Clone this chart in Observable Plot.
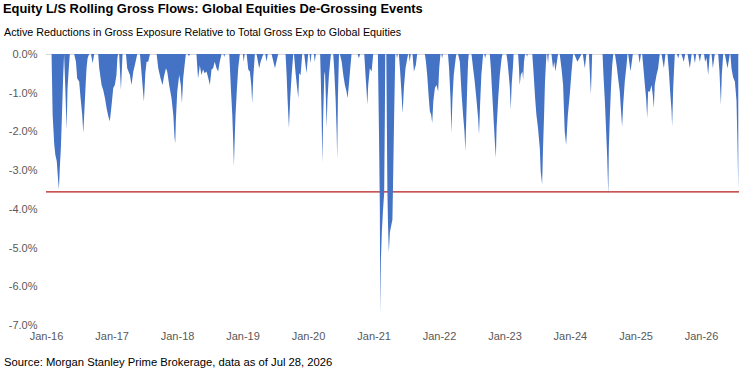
<!DOCTYPE html>
<html>
<head>
<meta charset="utf-8">
<script src="https://cdn.jsdelivr.net/npm/d3@7"></script>
<script src="https://cdn.jsdelivr.net/npm/@observablehq/plot@0.6"></script>
<style>
  body { margin: 0; background: #fff; }
  #chart { position: relative; width: 754px; height: 381px; overflow: hidden;
           font-family: "Liberation Sans", Arial, sans-serif; background: #fff; }
  .title { position: absolute; left: 3px; top: 2.5px; font-size: 12.9px; line-height: 1;
           font-weight: bold; color: #000; white-space: nowrap; }
  .subtitle { position: absolute; left: 4px; top: 26.6px; font-size: 10.75px; line-height: 1;
              color: #000; white-space: nowrap; }
  .source { position: absolute; left: 4px; top: 357.3px; font-size: 11.25px; line-height: 1;
            color: #000; white-space: nowrap; }
  #plot { position: absolute; left: 0; top: 40px; }
</style>
</head>
<body>
<div id="chart">
  <div class="title" id="title"></div>
  <div class="subtitle" id="subtitle"></div>
  <div id="plot"></div>
  <div class="source" id="source"></div>
</div>
<script>
const titleText = "Equity L/S Rolling Gross Flows: Global Equities De-Grossing Events";
const subtitleText = "Active Reductions in Gross Exposure Relative to Total Gross Exp to Global Equities";
const sourceText = "Source: Morgan Stanley Prime Brokerage, data as of Jul 28, 2026";

// Active gross reductions, % of total gross exposure to global equities
const grossFlowPoints = [
  ["2016-02-01", 0], ["2016-02-07", -1.57], ["2016-02-16", -2.34], ["2016-02-22", -2.6],
  ["2016-03-01", -2.77], ["2016-03-09", -3.28], ["2016-03-13", -3.50], ["2016-03-18", -2.94],
  ["2016-03-24", -2.42], ["2016-03-30", -1.57], ["2016-04-06", -0.54], ["2016-04-11", 0],
  ["2016-04-17", -0.8], ["2016-04-25", -1.95], ["2016-04-30", -0.9], ["2016-05-08", -0.3],
  ["2016-05-13", 0], ["2016-06-06", 0], ["2016-06-16", -0.2], ["2016-06-23", -0.63],
  ["2016-07-04", -0.71], ["2016-07-12", -1.14], ["2016-07-21", -1.57], ["2016-07-27", -2.04],
  ["2016-08-01", -1.57], ["2016-08-09", -0.8], ["2016-08-14", -0.37], ["2016-08-20", -0.11],
  ["2016-08-29", 0], ["2016-09-08", 0], ["2016-09-17", -0.24], ["2016-09-26", 0],
  ["2016-10-18", 0], ["2016-10-24", -0.37], ["2016-11-06", -0.8], ["2016-11-15", -0.93],
  ["2016-11-25", -1.14], ["2016-12-04", -1.4], ["2016-12-13", -1.6], ["2016-12-22", -1.74],
  ["2017-01-01", -1.31], ["2017-01-10", -0.88], ["2017-01-19", -0.8], ["2017-01-28", -0.54],
  ["2017-02-02", -0.11], ["2017-02-06", 0], ["2017-02-12", 0], ["2017-02-22", -0.93],
  ["2017-03-03", 0], ["2017-03-22", 0], ["2017-03-29", -0.37], ["2017-04-13", -0.54],
  ["2017-04-22", -0.8], ["2017-05-02", -0.45], ["2017-05-11", -0.28], ["2017-05-24", 0],
  ["2017-06-08", 0], ["2017-06-17", -0.5], ["2017-06-30", -1.23], ["2017-07-08", -0.5],
  ["2017-07-15", -0.2], ["2017-07-24", -0.2], ["2017-08-03", 0], ["2017-09-09", 0],
  ["2017-09-18", -0.37], ["2017-10-01", -0.63], ["2017-10-12", -0.8], ["2017-10-20", -0.58],
  ["2017-10-31", -0.37], ["2017-11-07", -0.45], ["2017-11-18", -0.8], ["2017-12-01", -1.14],
  ["2017-12-11", -1.57], ["2017-12-18", -2.17], ["2017-12-22", -2.3], ["2017-12-25", -1.74],
  ["2018-01-02", -0.97], ["2018-01-13", -0.54], ["2018-01-22", -0.8], ["2018-01-28", -1.27],
  ["2018-02-04", -0.63], ["2018-02-14", -0.2], ["2018-02-19", 0], ["2018-03-01", 0],
  ["2018-03-08", -0.05], ["2018-03-15", 0], ["2018-04-19", 0], ["2018-04-28", -0.63],
  ["2018-05-08", -0.3], ["2018-05-17", -0.54], ["2018-05-26", -0.4], ["2018-06-04", -0.5],
  ["2018-06-14", -0.45], ["2018-06-23", -0.6], ["2018-07-03", -0.8], ["2018-07-12", -0.4],
  ["2018-07-21", -0.37], ["2018-07-30", -0.2], ["2018-08-09", -0.37], ["2018-08-18", -0.45],
  ["2018-08-27", -0.2], ["2018-09-06", 0], ["2018-09-17", 0], ["2018-09-21", -0.08],
  ["2018-09-25", 0], ["2018-10-19", 0], ["2018-10-23", -0.37], ["2018-10-28", -0.88],
  ["2018-11-05", -1.57], ["2018-11-10", -2.25], ["2018-11-14", -2.9], ["2018-11-18", -2.25],
  ["2018-11-23", -1.57], ["2018-12-01", -0.88], ["2018-12-08", -0.37], ["2018-12-17", 0],
  ["2019-01-03", 0], ["2019-01-08", -0.2], ["2019-01-13", 0], ["2019-01-24", 0],
  ["2019-02-02", -0.4], ["2019-02-11", -0.45], ["2019-02-19", -0.8], ["2019-02-24", -1.27],
  ["2019-03-02", -0.6], ["2019-03-11", 0], ["2019-03-20", 0], ["2019-04-04", -0.37],
  ["2019-04-12", -0.2], ["2019-04-27", 0], ["2019-05-08", 0], ["2019-05-15", -0.2],
  ["2019-05-22", 0], ["2019-06-12", 0], ["2019-07-01", -0.37], ["2019-07-19", 0],
  ["2019-08-29", 0], ["2019-09-04", -0.54], ["2019-09-09", -1.14], ["2019-09-17", -1.91],
  ["2019-09-24", -1.14], ["2019-10-02", -0.54], ["2019-10-11", 0], ["2019-10-15", 0],
  ["2019-10-24", -0.5], ["2019-10-31", -0.8], ["2019-11-08", -1.14], ["2019-11-13", -0.5],
  ["2019-11-21", -0.54], ["2019-11-30", 0], ["2019-12-11", 0], ["2019-12-24", -0.5],
  ["2020-01-02", 0], ["2020-01-10", 0], ["2020-01-15", -0.24], ["2020-01-20", 0],
  ["2020-02-03", 0], ["2020-02-08", -0.2], ["2020-02-14", 0], ["2020-03-09", 0],
  ["2020-03-13", -0.71], ["2020-03-17", -1.57], ["2020-03-21", -2.81], ["2020-03-26", -1.57],
  ["2020-04-01", -0.54], ["2020-04-05", -0.45], ["2020-04-10", -1.14], ["2020-04-14", -1.91],
  ["2020-04-19", -1.14], ["2020-04-27", -0.54], ["2020-05-08", 0], ["2020-05-21", 0],
  ["2020-05-26", -0.37], ["2020-06-03", -1.14], ["2020-06-09", -2.0], ["2020-06-12", -2.72],
  ["2020-06-16", -1.14], ["2020-06-22", 0], ["2020-06-27", 0], ["2020-07-07", -0.2],
  ["2020-07-16", -0.54], ["2020-07-25", -0.8], ["2020-08-03", -0.97], ["2020-08-09", -1.14],
  ["2020-08-16", -0.8], ["2020-08-24", -0.37], ["2020-08-31", 0], ["2020-10-04", 0],
  ["2020-10-11", -0.11], ["2020-10-18", 0], ["2020-11-10", 0], ["2020-11-17", -0.54],
  ["2020-11-23", -0.97], ["2020-11-27", -1.31], ["2020-12-02", -0.8], ["2020-12-11", -0.37],
  ["2020-12-21", -0.45], ["2020-12-30", 0], ["2021-01-25", 0], ["2021-01-31", -2.0],
  ["2021-02-05", -4.0], ["2021-02-07", -6.72], ["2021-02-11", -5.3], ["2021-02-16", -4.6],
  ["2021-02-23", -4.0], ["2021-03-01", -3.6], ["2021-03-05", -1.5], ["2021-03-07", 0],
  ["2021-03-13", 0], ["2021-03-19", -3.5], ["2021-03-22", -4.3], ["2021-03-27", -5.13],
  ["2021-04-02", -4.6], ["2021-04-16", -4.28], ["2021-04-19", -3.5], ["2021-04-26", -1.5],
  ["2021-05-02", 0], ["2021-05-08", 0], ["2021-05-12", -0.11], ["2021-05-16", 0],
  ["2021-05-22", 0], ["2021-05-28", -0.37], ["2021-06-04", -0.88], ["2021-06-12", -1.53],
  ["2021-06-19", -0.88], ["2021-06-28", -0.37], ["2021-07-08", -0.11], ["2021-07-13", 0],
  ["2021-07-16", 0], ["2021-07-22", -0.2], ["2021-07-27", 0], ["2021-08-06", 0],
  ["2021-08-14", -0.45], ["2021-08-25", -0.28], ["2021-09-01", 0], ["2021-10-14", 0],
  ["2021-10-20", -0.2], ["2021-10-27", -0.54], ["2021-11-05", -1.14], ["2021-11-11", -1.48],
  ["2021-11-18", -1.57], ["2021-11-24", -1.78], ["2021-11-30", -1.23], ["2021-12-09", -0.88],
  ["2021-12-18", -0.8], ["2021-12-27", -0.97], ["2022-01-02", -0.37], ["2022-01-09", 0],
  ["2022-01-14", 0], ["2022-01-18", -0.11], ["2022-01-22", 0], ["2022-02-20", 0],
  ["2022-02-26", -0.37], ["2022-03-06", -1.14], ["2022-03-11", -2.04], ["2022-03-17", -1.14],
  ["2022-03-24", -0.54], ["2022-04-04", -0.11], ["2022-04-08", 0], ["2022-04-17", 0],
  ["2022-04-27", -0.2], ["2022-05-06", -0.97], ["2022-05-15", -1.57], ["2022-05-23", -2.0],
  ["2022-05-28", -2.51], ["2022-06-01", -1.82], ["2022-06-07", -0.88], ["2022-06-12", -0.2],
  ["2022-06-16", 0], ["2022-07-01", 0], ["2022-07-10", -0.37], ["2022-07-19", -0.71],
  ["2022-07-28", -1.14], ["2022-08-07", -1.65], ["2022-08-12", -2.08], ["2022-08-18", -1.31],
  ["2022-08-25", -0.54], ["2022-09-04", 0], ["2022-09-10", 0], ["2022-09-15", -0.11],
  ["2022-09-20", 0], ["2022-10-11", 0], ["2022-10-17", -0.37], ["2022-10-26", -1.14],
  ["2022-11-03", -1.82], ["2022-11-08", -2.25], ["2022-11-14", -2.68], ["2022-11-18", -1.91],
  ["2022-11-27", -1.14], ["2022-12-06", -0.54], ["2022-12-16", -0.11], ["2022-12-21", 0],
  ["2023-01-12", 0], ["2023-01-18", -0.2], ["2023-01-25", -0.54], ["2023-01-31", -0.88],
  ["2023-02-05", -1.44], ["2023-02-10", -0.8], ["2023-02-18", -0.28], ["2023-02-21", 0],
  ["2023-03-18", 0], ["2023-03-23", -0.37], ["2023-03-27", -0.8], ["2023-04-02", -0.54],
  ["2023-04-11", -0.45], ["2023-04-15", -0.67], ["2023-04-20", -0.2], ["2023-04-26", 0],
  ["2023-05-03", 0], ["2023-05-07", -0.07], ["2023-05-11", 0], ["2023-06-05", 0],
  ["2023-06-13", -0.54], ["2023-06-21", -1.14], ["2023-06-28", -1.57], ["2023-07-07", -1.91],
  ["2023-07-17", -2.43], ["2023-07-22", -3.03], ["2023-07-30", -3.37], ["2023-08-04", -2.43],
  ["2023-08-10", -1.57], ["2023-08-15", -0.71], ["2023-08-23", 0], ["2023-08-27", 0],
  ["2023-09-01", -0.24], ["2023-09-05", 0], ["2023-09-20", 0], ["2023-09-29", -0.37],
  ["2023-10-06", -0.2], ["2023-10-12", -0.45], ["2023-10-27", 0], ["2023-11-05", 0],
  ["2023-11-15", -0.37], ["2023-11-24", -0.8], ["2023-12-03", -2.0], ["2023-12-11", -2.35],
  ["2023-12-20", -1.6], ["2024-01-01", -1.0], ["2024-01-10", -0.45], ["2024-01-19", 0],
  ["2024-01-25", 0], ["2024-02-12", -0.2], ["2024-03-06", 0], ["2024-03-13", 0],
  ["2024-03-24", -0.37], ["2024-04-02", 0], ["2024-04-16", 0], ["2024-04-27", -1.05],
  ["2024-05-04", 0], ["2024-07-01", 0], ["2024-07-06", -0.54], ["2024-07-14", -1.23],
  ["2024-07-21", -2.0], ["2024-07-27", -2.68], ["2024-08-02", -3.63], ["2024-08-05", -2.43],
  ["2024-08-11", -1.57], ["2024-08-17", -0.88], ["2024-08-24", -0.28], ["2024-08-30", 0],
  ["2024-09-08", 0], ["2024-09-17", -0.28], ["2024-09-26", -0.63], ["2024-10-05", -0.97],
  ["2024-10-11", -1.4], ["2024-10-18", -1.87], ["2024-10-24", -1.31], ["2024-11-02", -0.71],
  ["2024-11-12", -0.28], ["2024-11-17", 0], ["2024-11-21", 0], ["2024-12-04", -0.45],
  ["2024-12-17", 0], ["2025-01-17", 0], ["2025-01-24", -0.24], ["2025-01-31", 0],
  ["2025-02-07", 0], ["2025-02-14", -0.37], ["2025-02-22", -0.8], ["2025-03-01", -1.14],
  ["2025-03-07", -1.65], ["2025-03-12", -0.97], ["2025-03-22", -0.97], ["2025-03-31", -0.8],
  ["2025-04-07", -1.05], ["2025-04-13", -1.4], ["2025-04-18", -0.8], ["2025-04-28", -0.54],
  ["2025-05-07", -0.37], ["2025-05-16", 0], ["2025-05-26", 0], ["2025-06-08", -0.37],
  ["2025-06-17", 0], ["2025-06-28", 0], ["2025-07-06", -0.45], ["2025-07-13", -0.97],
  ["2025-07-21", -1.48], ["2025-07-24", -1.87], ["2025-07-30", -0.88], ["2025-08-08", 0],
  ["2025-08-20", 0], ["2025-08-27", -0.11], ["2025-09-02", 0], ["2025-09-14", 0],
  ["2025-09-27", -0.2], ["2025-10-05", 0], ["2025-10-18", 0], ["2025-10-31", -0.37],
  ["2025-11-10", 0], ["2025-11-20", 0], ["2025-11-28", -0.24], ["2025-12-05", 0],
  ["2025-12-17", 0], ["2025-12-26", -0.2], ["2026-01-02", 0], ["2026-01-18", 0],
  ["2026-01-24", -0.2], ["2026-02-01", -0.1], ["2026-02-10", -0.54], ["2026-02-19", 0],
  ["2026-03-01", 0], ["2026-03-08", -0.37], ["2026-03-19", 0], ["2026-04-07", 0],
  ["2026-04-14", -0.45], ["2026-04-22", -1.31], ["2026-04-27", -0.54], ["2026-05-05", 0],
  ["2026-05-14", 0], ["2026-05-29", -0.37], ["2026-06-11", 0], ["2026-06-14", 0],
  ["2026-06-20", -0.37], ["2026-06-29", -0.6], ["2026-07-09", -0.71], ["2026-07-18", -1.2],
  ["2026-07-23", -2.2], ["2026-07-28", -3.5]
];

// Reference level drawn across the chart
const threshold = -3.55;

const xDomain = ["2016-01-01", "2026-08-01"];
const yearTicks = ["2016-01-01", "2017-01-01", "2018-01-01", "2019-01-01", "2020-01-01",
  "2021-01-01", "2022-01-01", "2023-01-01", "2024-01-01", "2025-01-01", "2026-01-01"];
const yTicks = [0, -1, -2, -3, -4, -5, -6, -7];

const flows = grossFlowPoints.map(([d, v]) => ({ date: new Date(d), value: v }));

document.getElementById("title").textContent = titleText;
document.getElementById("subtitle").textContent = subtitleText;
document.getElementById("source").textContent = sourceText;

const chart = Plot.plot({
  width: 754,
  height: 310,
  marginLeft: 46,
  marginRight: 15,
  marginTop: 14,
  marginBottom: 25,
  style: { fontFamily: "'Liberation Sans', Arial, sans-serif", fontSize: "11px",
           color: "#595959", background: "white" },
  x: {
    type: "utc",
    domain: xDomain.map(d => new Date(d)),
    ticks: yearTicks.map(d => new Date(d)),
    tickFormat: d3.utcFormat("%b-%y"),
    tickSize: 0,
    tickPadding: 7,
    label: null
  },
  y: {
    domain: [-7, 0],
    ticks: yTicks,
    tickFormat: d => d.toFixed(1) + "%",
    tickSize: 0,
    tickPadding: 9,
    label: null
  },
  marks: [
    Plot.ruleY([0], { stroke: "#d9d9d9" }),
    Plot.ruleY([threshold], { stroke: "#b71c1c", strokeWidth: 1.25 }),
    Plot.areaY(flows, { x: "date", y: "value", fill: "#4472c4" })
  ]
});
document.getElementById("plot").appendChild(chart);
</script>
</body>
</html>
